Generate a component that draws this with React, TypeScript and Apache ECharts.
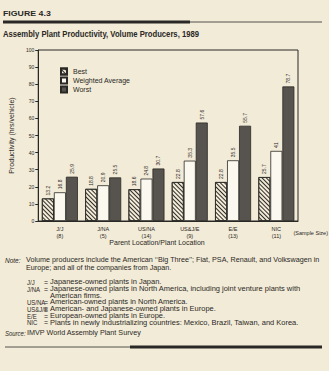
import React, { useEffect, useRef } from "react";
import * as echarts from "echarts";

const categories = ["J/J", "J/NA", "US/NA", "US&J/E", "E/E", "NIC"];
const sampleSizes = [8, 5, 14, 9, 13, 11];
const best = [13.2, 18.8, 18.6, 22.8, 22.8, 25.7];
const weightedAverage = [16.8, 20.9, 24.8, 35.3, 35.5, 41];
const worst = [25.9, 25.5, 30.7, 57.6, 55.7, 78.7];
const yTicks = { min: 0, max: 100, interval: 10 };

const definitions: [string, string][] = [
  ["J/J", "Japanese-owned plants in Japan."],
  ["J/NA", "Japanese-owned plants in North America, including joint venture plants with"],
  ["", "American firms."],
  ["US/NA", "American-owned plants in North America."],
  ["US&J/E", "American- and Japanese-owned plants in Europe."],
  ["E/E", "European-owned plants in Europe."],
  ["NIC", "Plants in newly industrializing countries: Mexico, Brazil, Taiwan, and Korea."],
];

const BG = "#f2ebd7";
const INK = "#2a2826";
const FONT = "'Liberation Sans Narrow', 'Arial Narrow', 'Liberation Sans', Arial, sans-serif";

function T(text: string, x: number, y: number, o: any = {}) {
  return {
    type: "text",
    x,
    y,
    scaleX: o.scaleX || 1,
    rotation: o.rotation || 0,
    silent: true,
    style: {
      text,
      fill: o.fill || INK,
      fontFamily: FONT,
      fontSize: o.fontSize || 7,
      fontWeight: o.fontWeight || "normal",
      fontStyle: o.fontStyle || "normal",
      textAlign: o.align || "left",
      textVerticalAlign: "middle",
    },
  };
}

export default function App() {
  const ref = useRef<HTMLDivElement>(null);
  useEffect(() => {
    if (!ref.current) return;
    const chart = echarts.init(ref.current, null, { renderer: "svg" });
    const barLabel = {
      show: true,
      position: "top",
      rotate: 90,
      align: "left",
      verticalAlign: "middle",
      distance: 3,
      fontSize: 5,
      color: INK,
      fontFamily: FONT,
    };
    const graphics: any[] = [
      T("FIGURE 4.3", 3, 14, { fontSize: 6.5, fontWeight: "bold", scaleX: 1.35 }),
      { type: "line", silent: true, shape: { x1: 3, y1: 22, x2: 190, y2: 22 }, style: { stroke: INK, lineWidth: 3 } },
      { type: "line", silent: true, shape: { x1: 190, y1: 22, x2: 322, y2: 22 }, style: { stroke: INK, lineWidth: 0.8 } },
      T("Assembly Plant Productivity, Volume Producers, 1989", 3, 34, { fontSize: 9.5, fontWeight: "bold", scaleX: 0.81 }),
      T("(Sample Size)", 328, 233, { fontSize: 5.5, align: "right" }),
      T("Parent Location/Plant Location", 157, 242, { fontSize: 7, align: "center" }),
      T("Note:", 5, 260, { fontStyle: "italic", fontSize: 6.5 }),
      T("Volume producers include the American \u2018\u2018Big Three\u2019\u2019; Fiat, PSA, Renault, and Volkswagen in", 26, 260, { scaleX: 1.03 }),
      T("Europe; and all of the companies from Japan.", 26, 268, { scaleX: 1.03 }),
      T("Source:", 5, 333, { fontStyle: "italic", fontSize: 6.5, scaleX: 0.92 }),
      T("IMVP World Assembly Plant Survey", 27, 333, { scaleX: 1.03 }),
      { type: "line", silent: true, shape: { x1: 5, y1: 347, x2: 130, y2: 347 }, style: { stroke: INK, lineWidth: 0.8 } },
      { type: "line", silent: true, shape: { x1: 130, y1: 347, x2: 322, y2: 347 }, style: { stroke: INK, lineWidth: 3 } },
    ];
    const rowY = [282, 289, 295.5, 302, 309, 316, 322.5];
    definitions.forEach(([abbr, desc], i) => {
      if (abbr) {
        graphics.push(T(abbr, 27, rowY[i], { scaleX: 0.86 }));
        graphics.push(T("=", 44, rowY[i]));
      }
      graphics.push(T(desc, 50, rowY[i], { scaleX: 1.07 }));
    });

    chart.setOption({
      animation: false,
      backgroundColor: BG,
      textStyle: { fontFamily: FONT, color: INK },
      grid: { left: 25, right: 31, top: 50, bottom: 150, show: true, borderColor: INK, borderWidth: 1 },
      legend: {
        orient: "vertical",
        left: 60,
        top: 67.5,
        padding: 0,
        itemWidth: 6,
        itemHeight: 6,
        itemGap: 1,
        icon: "rect",
        textStyle: { fontSize: 7, lineHeight: 8, color: INK, fontFamily: FONT, padding: [0, 0, 0, 1] },
        data: ["Best", "Weighted Average", "Worst"],
      },
      xAxis: {
        type: "category",
        data: categories,
        axisLine: { lineStyle: { color: INK, width: 1 } },
        axisTick: { show: false },
        axisLabel: {
          fontSize: 5.5,
          lineHeight: 7,
          margin: 4,
          color: INK,
          fontFamily: FONT,
          formatter: (v: string) => `${v}\n(${sampleSizes[categories.indexOf(v)]})`,
        },
      },
      yAxis: {
        type: "value",
        min: yTicks.min,
        max: yTicks.max,
        interval: yTicks.interval,
        name: "Productivity (hrs/vehicle)",
        nameLocation: "middle",
        nameGap: 20,
        nameTextStyle: { fontSize: 7, color: INK, fontFamily: FONT },
        axisLine: { show: true, lineStyle: { color: INK, width: 1 } },
        axisTick: { show: true, length: 3, lineStyle: { color: INK } },
        axisLabel: { fontSize: 5, margin: 4, color: INK, fontFamily: FONT },
        splitLine: { show: false },
      },
      series: [
        {
          name: "Best",
          type: "bar",
          data: best,
          barWidth: 12,
          barGap: "0%",
          itemStyle: {
            color: BG,
            borderColor: INK,
            borderWidth: 0.8,
            decal: {
              symbol: "rect",
              symbolSize: 1,
              dashArrayX: [1, 0],
              dashArrayY: [1, 1.8],
              rotation: Math.PI / 4,
              color: "#2e2b28",
            },
          },
          label: barLabel,
        },
        {
          name: "Weighted Average",
          type: "bar",
          data: weightedAverage,
          barWidth: 12,
          barGap: "0%",
          itemStyle: { color: "#fbf8ef", borderColor: INK, borderWidth: 0.8 },
          label: barLabel,
        },
        {
          name: "Worst",
          type: "bar",
          data: worst,
          barWidth: 12,
          barGap: "0%",
          itemStyle: { color: "#57534e", borderColor: INK, borderWidth: 0.8 },
          label: barLabel,
        },
      ],
      graphic: graphics,
    });
    return () => chart.dispose();
  }, []);
  return (
    <div style={{ position: "fixed", left: 0, top: 0, width: 329, height: 371, background: BG }}>
      <div ref={ref} style={{ width: 329, height: 371 }} />
    </div>
  );
}
